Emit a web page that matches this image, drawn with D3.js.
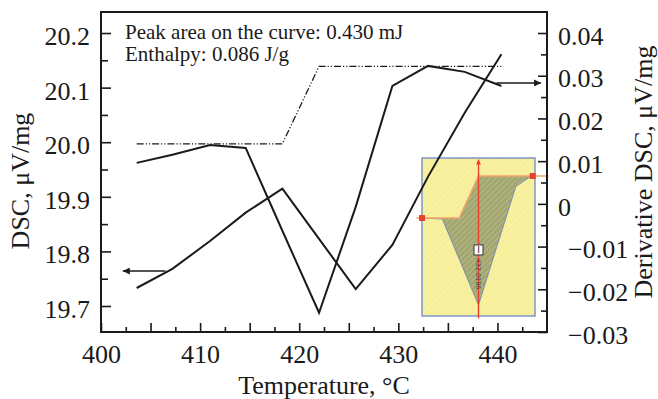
<!DOCTYPE html>
<html>
<head>
<meta charset="utf-8">
<script src="https://cdn.jsdelivr.net/npm/d3@7"></script>
<style>
  body { margin: 0; background: #fff; }
  svg { display: block; }
  text { font-family: "Liberation Serif", "Times New Roman", serif; fill: #1a1a1a; }
</style>
</head>
<body>
<div id="chart"></div>
<script>
// measured points, temperature in °C
const temps = [403.6, 407.2, 411.0, 414.6, 418.3, 422.0, 425.7, 429.4, 433.0, 436.7, 440.4];
const dscValues = [19.733, 19.768, 19.819, 19.871, 19.915, 19.823, 19.731, 19.812, 19.937, 20.054, 20.161];
const derivValues = [0.0096, 0.0115, 0.0138, 0.0131, -0.0063, -0.0255, -0.0007, 0.0276, 0.0323, 0.0309, 0.0276];
// integration baseline (left axis units)
const baseTemps = [403.6, 418.3, 422.0, 440.4];
const baseValues = [19.997, 19.997, 20.139, 20.139];

const xTicks = [400, 410, 420, 430, 440];
const leftTicks = [19.7, 19.8, 19.9, 20.0, 20.1, 20.2];
const rightTicks = [-0.03, -0.02, -0.01, 0, 0.01, 0.02, 0.03, 0.04];

const notes = ['Peak area on the curve: 0.430 mJ', 'Enthalpy: 0.086 J/g'];

// inset (screenshot of the peak integration), in its own 0..100 units
const insetBaseline = [[-5, 62], [0, 62], [33, 62], [50, 88.6], [98, 88.6], [112, 88.6]];
const insetCurve = [[0, 62], [18, 61.4], [50, 7], [83, 82], [94, 87.3], [98, 88.6]];
const insetMarkers = [[0, 62], [98, 88.6]];
const insetCursor = 50;
const insetLabel = '432.0196';

const width = 658, height = 399;
const m = { left: 101, right: 547, top: 12, bottom: 332 };

const svg = d3.select('#chart').append('svg')
    .attr('width', width)
    .attr('height', height);

const x = d3.scaleLinear().domain([400, 445]).range([m.left, m.right]);
const yL = d3.scaleLinear().domain([19.6524, 20.2385]).range([m.bottom, m.top]);
const yR = d3.scaleLinear().domain([-0.03, 0.04492]).range([m.bottom, m.top]);

const defs = svg.append('defs');
const hatch = defs.append('pattern')
    .attr('id', 'hatch')
    .attr('width', 4).attr('height', 4)
    .attr('patternUnits', 'userSpaceOnUse')
    .attr('patternTransform', 'rotate(45)');
hatch.append('line')
    .attr('x1', 0).attr('y1', 0).attr('x2', 0).attr('y2', 4)
    .attr('stroke', '#ffffff').attr('stroke-opacity', 0.35).attr('stroke-width', 1.2);

const arrowHead = (id, color, w, h) => defs.append('marker')
    .attr('id', id)
    .attr('viewBox', '0 0 10 10')
    .attr('refX', 10).attr('refY', 5)
    .attr('markerUnits', 'userSpaceOnUse')
    .attr('markerWidth', w).attr('markerHeight', h)
    .attr('orient', 'auto')
    .append('path').attr('d', 'M0,0L10,5L0,10Z').attr('fill', color);
arrowHead('arr', '#1a1a1a', 9, 7);
arrowHead('arrRed', '#e8402a', 6, 5);

// ---- inset ----
const ix = d3.scaleLinear().domain([0, 100]).range([422, 535]);
const iy = d3.scaleLinear().domain([0, 100]).range([316, 158]);
const inset = svg.append('g');

inset.append('rect')
    .attr('x', ix(0)).attr('y', iy(100))
    .attr('width', ix(100) - ix(0)).attr('height', iy(0) - iy(100))
    .attr('fill', '#f7ef98');
inset.append('rect')
    .attr('x', ix(0)).attr('y', iy(100))
    .attr('width', ix(100) - ix(0)).attr('height', iy(0) - iy(100))
    .attr('fill', 'url(#hatch)')
    .attr('stroke', '#6a86c8').attr('stroke-width', 1.3);

const fillPts = insetCurve.slice(1).concat(insetBaseline.slice(1, 4).reverse().map(d => d));
const fillPoly = insetCurve.slice(1).concat([insetBaseline[4], insetBaseline[3], insetBaseline[2], [insetCurve[1][0], insetBaseline[2][1]]]);
const iline = d3.line().x(d => ix(d[0])).y(d => iy(d[1]));

inset.append('path').attr('d', iline(fillPoly) + 'Z').attr('fill', '#a3a66e');
inset.append('path').attr('d', iline(fillPoly) + 'Z').attr('fill', 'url(#hatch)');
inset.append('path').attr('d', iline(insetCurve))
    .attr('fill', 'none').attr('stroke', '#7d8db0').attr('stroke-width', 1);
inset.append('path').attr('d', iline(insetBaseline))
    .attr('fill', 'none').attr('stroke', '#f2a36a').attr('stroke-width', 1.6);

inset.append('line')
    .attr('x1', ix(insetCursor)).attr('x2', ix(insetCursor))
    .attr('y1', iy(-1.5)).attr('y2', iy(99))
    .attr('stroke', '#e8402a').attr('stroke-width', 1.4)
    .attr('marker-end', 'url(#arrRed)');

inset.selectAll('rect.mk').data(insetMarkers).join('rect')
    .attr('class', 'mk')
    .attr('x', d => ix(d[0]) - 3).attr('y', d => iy(d[1]) - 3)
    .attr('width', 6).attr('height', 6)
    .attr('fill', '#e8402a');

inset.append('rect')
    .attr('x', ix(insetCursor) - 4.5).attr('y', iy(41.8) - 5)
    .attr('width', 9).attr('height', 10)
    .attr('fill', '#fff').attr('stroke', '#333').attr('stroke-width', 1);
inset.append('text')
    .attr('x', ix(insetCursor)).attr('y', iy(41.8) + 3.5)
    .attr('text-anchor', 'middle')
    .style('font-family', 'DejaVu Sans, sans-serif')
    .style('font-size', '9px')
    .text('I');
inset.append('text')
    .attr('transform', `translate(${ix(insetCursor) - 3},${iy(26.6)}) rotate(90)`)
    .attr('text-anchor', 'middle')
    .style('font-family', 'DejaVu Sans, sans-serif')
    .style('font-size', '6.5px')
    .style('fill', '#444')
    .text(insetLabel);

// ---- axes ----
const axisFont = g => g.selectAll('text').style('font-size', '26px')
    .style('font-family', '"Liberation Serif", "Times New Roman", serif').attr('fill', '#1a1a1a');

const gx = svg.append('g').attr('transform', `translate(0,${m.bottom})`)
    .call(d3.axisBottom(x).tickValues(xTicks).tickSize(-9).tickPadding(13).tickFormat(d3.format('d')));
const gxMinor = svg.append('g').attr('transform', `translate(0,${m.bottom})`)
    .call(d3.axisBottom(x).tickValues(d3.range(402.5, 445, 2.5).filter(d => d % 5 !== 0)).tickSize(-5).tickFormat(''));
const gx5 = svg.append('g').attr('transform', `translate(0,${m.bottom})`)
    .call(d3.axisBottom(x).tickValues([405, 415, 425, 435]).tickSize(-9).tickFormat(''));

const gl = svg.append('g').attr('transform', `translate(${m.left},0)`)
    .call(d3.axisLeft(yL).tickValues(leftTicks).tickSize(-10).tickPadding(11).tickFormat(d3.format('.1f')));
const glMinor = svg.append('g').attr('transform', `translate(${m.left},0)`)
    .call(d3.axisLeft(yL).tickValues([19.75, 19.85, 19.95, 20.05, 20.15]).tickSize(-7).tickFormat(''));

const gr = svg.append('g').attr('transform', `translate(${m.right},0)`)
    .call(d3.axisRight(yR).tickValues(rightTicks).tickSize(-9).tickPadding(11)
        .tickFormat(d => d === 0 ? '0' : d3.format('.2f')(d)));
const grMinor = svg.append('g').attr('transform', `translate(${m.right},0)`)
    .call(d3.axisRight(yR).tickValues([-0.025, -0.015, -0.005, 0.005, 0.015, 0.025, 0.035]).tickSize(-6).tickFormat(''));

[gx, gxMinor, gx5, gl, glMinor, gr, grMinor].forEach(g => {
    g.select('.domain').remove();
    g.selectAll('line').attr('stroke', '#1a1a1a').attr('stroke-width', 1.6);
    axisFont(g);
});
gl.selectAll('text').attr('dy', '0.44em');
gr.selectAll('text').attr('dy', '0.43em').attr('x', d => d < 0 ? 21 : 11);

svg.append('rect')
    .attr('x', m.left).attr('y', m.top)
    .attr('width', m.right - m.left).attr('height', m.bottom - m.top)
    .attr('fill', 'none').attr('stroke', '#1a1a1a').attr('stroke-width', 2);

// ---- curves ----
svg.append('path')
    .datum(baseTemps.map((t, i) => [t, baseValues[i]]))
    .attr('d', d3.line().x(d => x(d[0])).y(d => yL(d[1])))
    .attr('fill', 'none').attr('stroke', '#1a1a1a').attr('stroke-width', 1.3)
    .attr('stroke-dasharray', '7,2,1.2,2,1.2,2');

svg.append('path')
    .datum(temps.map((t, i) => [t, dscValues[i]]))
    .attr('d', d3.line().x(d => x(d[0])).y(d => yL(d[1])))
    .attr('fill', 'none').attr('stroke', '#1a1a1a').attr('stroke-width', 2).attr('stroke-linejoin', 'miter');

svg.append('path')
    .datum(temps.map((t, i) => [t, derivValues[i]]))
    .attr('d', d3.line().x(d => x(d[0])).y(d => yR(d[1])))
    .attr('fill', 'none').attr('stroke', '#1a1a1a').attr('stroke-width', 2).attr('stroke-linejoin', 'miter');

// arrows pointing to each curve's axis
svg.append('line')
    .attr('x1', x(406.5)).attr('x2', x(402.2))
    .attr('y1', yL(19.764)).attr('y2', yL(19.764))
    .attr('stroke', '#1a1a1a').attr('stroke-width', 1.4).attr('marker-end', 'url(#arr)');
svg.append('line')
    .attr('x1', x(439.9)).attr('x2', x(444.4))
    .attr('y1', yR(0.0283)).attr('y2', yR(0.0283))
    .attr('stroke', '#1a1a1a').attr('stroke-width', 1.4).attr('marker-end', 'url(#arr)');

// ---- text ----
svg.selectAll('text.note').data(notes).join('text')
    .attr('class', 'note')
    .attr('x', 125).attr('y', (d, i) => 39 + i * 22)
    .style('font-size', '21px')
    .text(d => d);

svg.append('text')
    .attr('x', (m.left + m.right) / 2).attr('y', 394)
    .attr('text-anchor', 'middle')
    .style('font-size', '26px')
    .text('Temperature, °C');

svg.append('text')
    .attr('transform', 'translate(29,181) rotate(-90)')
    .attr('text-anchor', 'middle')
    .style('font-size', '26px')
    .text('DSC, μV/mg');

svg.append('text')
    .attr('transform', 'translate(652,172) rotate(-90)')
    .attr('text-anchor', 'middle')
    .style('font-size', '26px')
    .text('Derivative DSC, μV/mg');
</script>
</body>
</html>
